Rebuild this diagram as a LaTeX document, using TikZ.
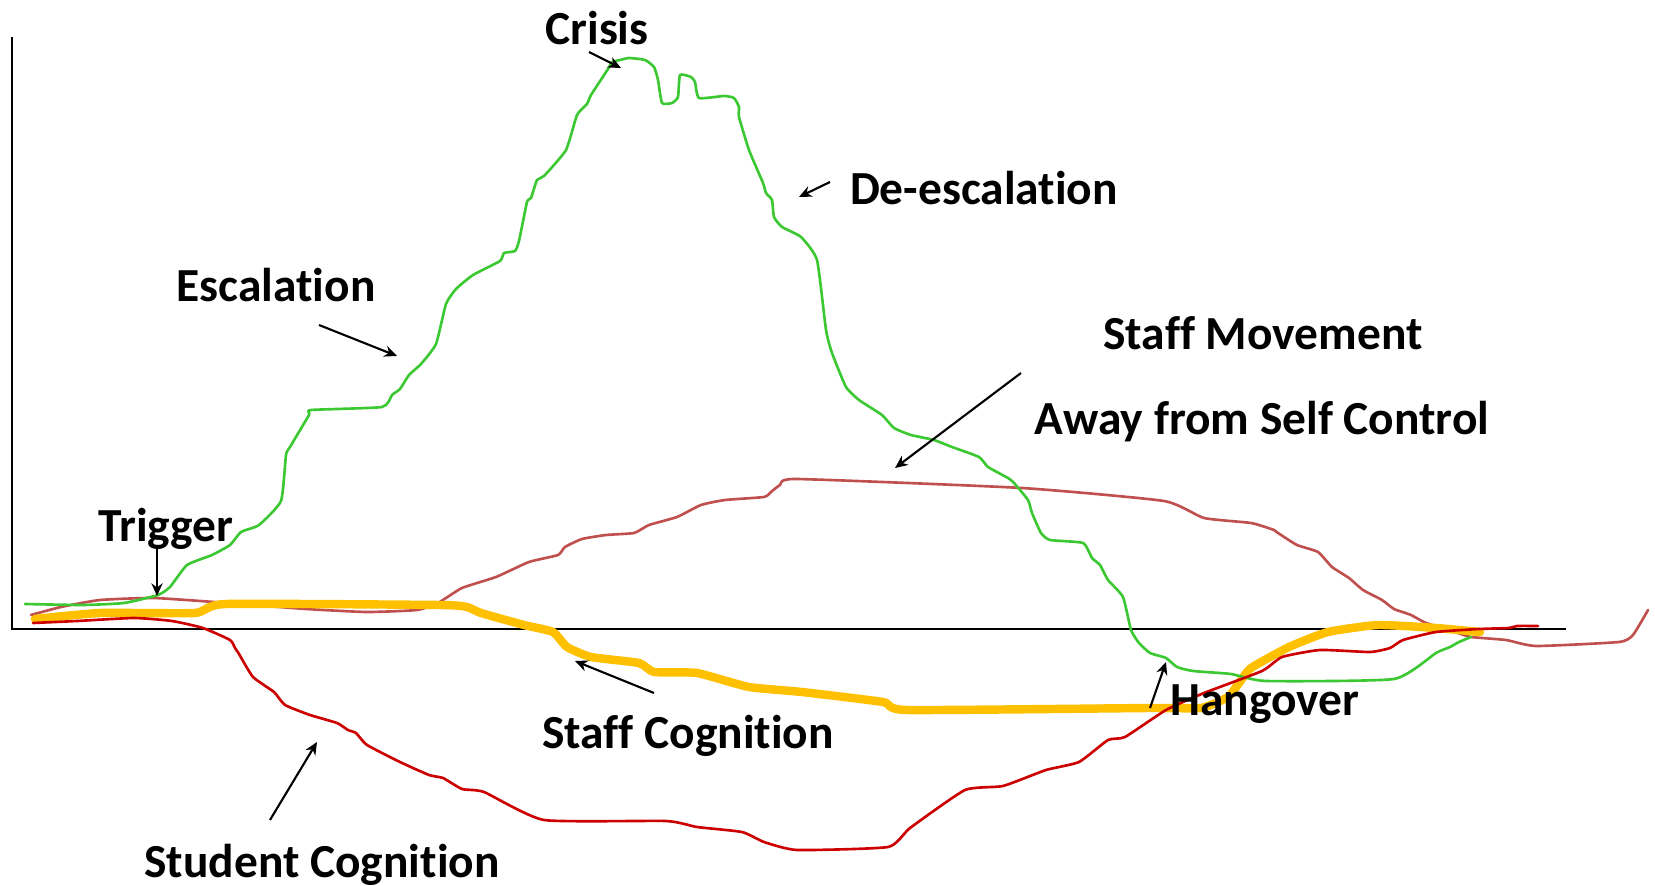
\documentclass[tikz,border=0pt]{standalone}
\usepackage{fontspec}
\setmainfont{Carlito}[RawFeature={-liga;-clig;-calt;-dlig}]
\usetikzlibrary{arrows.meta}

\definecolor{escgreen}{RGB}{60,200,50}
\definecolor{movebrown}{RGB}{192,80,77}
\definecolor{studred}{RGB}{204,0,0}
\definecolor{staffgold}{RGB}{255,192,0}

\tikzset{
  phasetext/.style={font=\bfseries\fontsize{13.5}{16}\selectfont, anchor=base, inner sep=0pt},
  pointer/.style={->, line width=0.6pt},
  trace/.style={line width=0.75pt, line join=round, line cap=round},
}

\begin{document}
\begin{tikzpicture}[x=0.1mm, y=-0.1mm, >={Stealth[length=3.6pt,width=3.2pt]}]

    % Area of the picture (pixel grid, y going down)
    \useasboundingbox (0,0) rectangle (1655,886);

    % Eixos
    \draw[line width=0.85pt] (12,37) -- (12,629) -- (1566,629);

    % Staff movement away from self control
    \draw[trace, movebrown] plot[smooth, tension=0.3] coordinates {
        (31,615) (61,607) (100,600) (153,598) (214,602) (306,609) (367,612)
        (417,610) (438,603) (462,588) (496,577) (529,562) (558,555) (565,547)
        (582,539) (606,535) (634,533) (649,525) (677,517) (701,505) (725,500)
        (764,497) (771,492) (780,485) (797,479) (1022,488) (1164,501)
        (1204,518) (1251,523) (1274,530) (1278,533) (1297,545) (1318,552)
        (1332,567) (1349,578) (1363,590) (1382,600) (1394,609) (1411,615)
        (1426,623) (1455,632) (1471,637) (1506,640) (1536,646) (1619,642)
        (1633,635) (1648,610)};

    % Staff cognition (thick)
    \draw[trace, staffgold, line width=2.4pt] plot[smooth, tension=0.3] coordinates {
        (35,619) (100,613) (195,613) (226,604) (440,605) (467,607) (481,613)
        (524,625) (553,632) (567,647) (591,657) (639,663) (654,672) (697,673)
        (749,687) (802,692) (883,702) (907,710) (1150,708) (1201,708)
        (1228,697) (1239,683) (1251,668) (1289,647) (1328,632) (1378,625)
        (1436,628) (1480,632)};

    % Escalation / crisis / de-escalation
    \draw[trace, escgreen] plot[smooth, tension=0.3] coordinates {
        (25,604) (83,605) (124,603) (158,595) (170,587) (187,565) (212,555)
        (230,545) (241,532) (259,525) (281,501) (286,455) (290,447) (309,415)
        (311,410) (382,407) (392,395) (400,389) (409,375) (421,364) (436,344)
        (446,304) (456,289) (473,275) (500,261) (504,253) (515,251) (519,241)
        (527,202) (531,198) (537,180) (544,176) (566,150) (577,115) (587,104)
        (591,95) (608,69) (612,62) (620,60) (629,58) (645,60) (654,67)
        (658,80) (662,103) (672,103) (678,97) (680,75) (691,77) (695,82)
        (699,98) (724,96) (734,98) (739,107) (739,117) (749,150) (763,183)
        (766,193) (772,200) (774,217) (782,227) (801,237) (817,260) (826,330)
        (832,353) (846,387) (859,400) (882,415) (894,428) (911,435) (934,440)
        (952,447) (979,457) (988,467) (1008,478) (1014,483) (1028,500)
        (1032,513) (1041,533) (1050,540) (1083,543) (1092,558) (1100,565)
        (1108,580) (1123,597) (1131,630) (1139,643) (1150,653) (1166,658)
        (1177,667) (1193,671) (1231,674) (1266,681) (1394,679) (1436,653)
        (1450,647) (1459,642) (1471,637)};

    % Student cognition
    \draw[trace, studred] plot[smooth, tension=0.3] coordinates {
        (33,623) (77,621) (134,618) (172,621) (203,628) (230,640) (235,648)
        (239,654) (253,677) (274,692) (285,705) (310,715) (337,723) (348,730)
        (356,733) (367,745) (400,762) (429,775) (443,778) (462,789) (484,792)
        (544,820) (666,821) (697,827) (742,832) (764,842) (797,850) (888,847)
        (910,828) (965,790) (1003,786) (1046,770) (1079,762) (1108,740)
        (1125,737) (1166,710) (1204,693) (1262,671) (1282,657) (1320,650)
        (1370,652) (1390,648) (1403,640) (1436,632) (1479,629) (1509,628)
        (1517,626) (1538,626)};

    % Rotulos das fases
    \node[phasetext] (trigger)   at (166,542)  {Trigger};
    \node[phasetext] (escalation) at (276,302) {Escalation};
    \node[phasetext] (crisis)    at (597,45)   {Crisis};
    \node[phasetext] (deesc)     at (984,205)  {De-escalation};
    \node[phasetext] (staffmove) at (1263,350) {Staff Movement};
    \node[phasetext] (away)      at (1262,435) {Away from Self Control};
    \node[phasetext] (staffcog)  at (688,748)  {Staff Cognition};
    \node[phasetext] (studcog)   at (322,877)  {Student Cognition};
    \node[phasetext] (hangover)  at (1265,715) {Hangover};

    % Pontas das setas
    \coordinate (trigTail) at (157,548);  \coordinate (trigTip) at (157,596);
    \coordinate (escTail)  at (319,325);  \coordinate (escTip)  at (397,356);
    \coordinate (criTail)  at (589,52);   \coordinate (criTip)  at (621,68);
    \coordinate (deTail)   at (830,182);  \coordinate (deTip)   at (799,197);
    \coordinate (moveTail) at (1021,373); \coordinate (moveTip) at (895,468);
    \coordinate (scTail)   at (654,693);  \coordinate (scTip)   at (575,661);
    \coordinate (stTail)   at (270,820);  \coordinate (stTip)   at (317,742);
    \coordinate (hgTail)   at (1150,708); \coordinate (hgTip)   at (1166,662);

    % Setas
    \draw[pointer] (trigTail) -- (trigTip);
    \draw[pointer] (escTail) -- (escTip);
    \draw[pointer] (criTail) -- (criTip);
    \draw[pointer] (deTail) -- (deTip);
    \draw[pointer] (moveTail) -- (moveTip);
    \draw[pointer] (scTail) -- (scTip);
    \draw[pointer] (stTail) -- (stTip);
    \draw[pointer] (hgTail) -- (hgTip);

\end{tikzpicture}
\end{document}
